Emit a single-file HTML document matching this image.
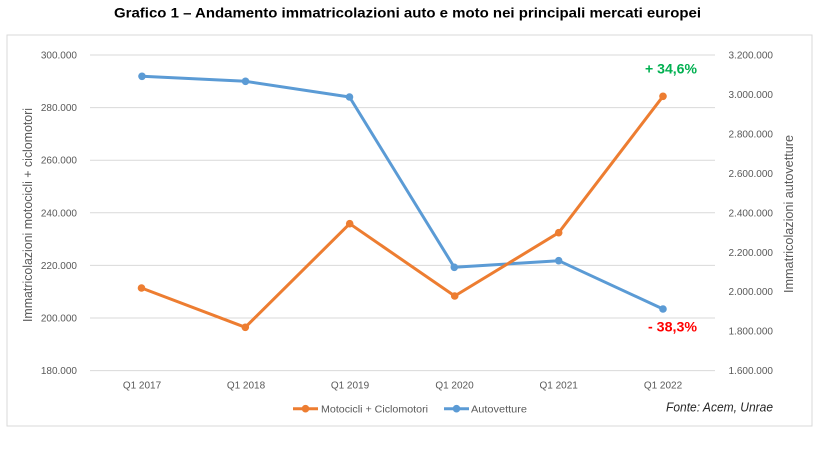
<!DOCTYPE html>
<html>
<head>
<meta charset="utf-8">
<style>
html,body{margin:0;padding:0;background:#fff;}
svg{display:block;}
text{font-family:"Liberation Sans",Arial,sans-serif;}
</style>
</head>
<body>
<svg width="835" height="451" viewBox="0 0 835 451" xmlns="http://www.w3.org/2000/svg">
<rect x="0" y="0" width="835" height="451" fill="#fff"/>
<text x="114" y="17.5" font-size="14" font-weight="bold" fill="#000" textLength="587" lengthAdjust="spacingAndGlyphs">Grafico 1 – Andamento immatricolazioni auto e moto nei principali mercati europei</text>
<rect x="7" y="35" width="805" height="391" fill="#fff" stroke="#d9d9d9" stroke-width="1"/>
<g stroke="#d9d9d9" stroke-width="1">
<line x1="90" y1="55" x2="715" y2="55"/>
<line x1="90" y1="107.6" x2="715" y2="107.6"/>
<line x1="90" y1="160.2" x2="715" y2="160.2"/>
<line x1="90" y1="212.8" x2="715" y2="212.8"/>
<line x1="90" y1="265.4" x2="715" y2="265.4"/>
<line x1="90" y1="318" x2="715" y2="318"/>
<line x1="90" y1="370.6" x2="715" y2="370.6"/>
</g>
<g font-size="10" fill="#595959" text-anchor="end">
<text x="77" y="58.5">300.000</text>
<text x="77" y="111.1">280.000</text>
<text x="77" y="163.7">260.000</text>
<text x="77" y="216.3">240.000</text>
<text x="77" y="268.9">220.000</text>
<text x="77" y="321.5">200.000</text>
<text x="77" y="374.1">180.000</text>
</g>
<g font-size="10" fill="#595959" text-anchor="end">
<text x="773" y="58.5">3.200.000</text>
<text x="773" y="98">3.000.000</text>
<text x="773" y="137.4">2.800.000</text>
<text x="773" y="176.9">2.600.000</text>
<text x="773" y="216.3">2.400.000</text>
<text x="773" y="255.8">2.200.000</text>
<text x="773" y="295.2">2.000.000</text>
<text x="773" y="334.6">1.800.000</text>
<text x="773" y="374.1">1.600.000</text>
</g>
<g font-size="10" fill="#595959" text-anchor="middle">
<text x="142" y="388.5">Q1 2017</text>
<text x="246" y="388.5">Q1 2018</text>
<text x="350" y="388.5">Q1 2019</text>
<text x="454.5" y="388.5">Q1 2020</text>
<text x="558.7" y="388.5">Q1 2021</text>
<text x="663" y="388.5">Q1 2022</text>
</g>
<text transform="translate(32,215) rotate(-90)" font-size="12.5" fill="#595959" text-anchor="middle" textLength="214" lengthAdjust="spacingAndGlyphs">Immatricolazioni motocicli + ciclomotori</text>
<text transform="translate(793,214) rotate(-90)" font-size="12.5" fill="#595959" text-anchor="middle" textLength="158" lengthAdjust="spacingAndGlyphs">Immatricolazioni autovetture</text>
<!-- Blue series -->
<polyline points="142,76.3 245.5,81.3 349.5,97 454.3,267.3 558.7,260.7 663,309" fill="none" stroke="#5b9bd5" stroke-width="3" stroke-linejoin="round"/>
<g fill="#5b9bd5">
<circle cx="142" cy="76.3" r="3.8"/>
<circle cx="245.5" cy="81.3" r="3.8"/>
<circle cx="349.5" cy="97" r="3.8"/>
<circle cx="454.3" cy="267.3" r="3.8"/>
<circle cx="558.7" cy="260.7" r="3.8"/>
<circle cx="663" cy="309" r="3.8"/>
</g>
<!-- Orange series -->
<polyline points="141.5,288 245.3,327.3 349.7,223.7 454.7,296 558.7,232.7 663,96.3" fill="none" stroke="#ed7d31" stroke-width="3" stroke-linejoin="round"/>
<g fill="#ed7d31">
<circle cx="141.5" cy="288" r="3.8"/>
<circle cx="245.3" cy="327.3" r="3.8"/>
<circle cx="349.7" cy="223.7" r="3.8"/>
<circle cx="454.7" cy="296" r="3.8"/>
<circle cx="558.7" cy="232.7" r="3.8"/>
<circle cx="663" cy="96.3" r="3.8"/>
</g>
<text x="645" y="73.3" font-size="14" font-weight="bold" fill="#00b050" textLength="52" lengthAdjust="spacingAndGlyphs">+ 34,6%</text>
<text x="648" y="331.5" font-size="14" font-weight="bold" fill="#ff0000" textLength="49" lengthAdjust="spacingAndGlyphs">- 38,3%</text>
<!-- Legend -->
<line x1="293" y1="408.7" x2="318" y2="408.7" stroke="#ed7d31" stroke-width="3"/>
<circle cx="305.5" cy="408.7" r="3.8" fill="#ed7d31"/>
<text x="321" y="412.5" font-size="10.5" fill="#595959" textLength="107" lengthAdjust="spacingAndGlyphs">Motocicli + Ciclomotori</text>
<line x1="444" y1="408.7" x2="469" y2="408.7" stroke="#5b9bd5" stroke-width="3"/>
<circle cx="456.5" cy="408.7" r="3.8" fill="#5b9bd5"/>
<text x="471" y="412.5" font-size="10.5" fill="#595959" textLength="56" lengthAdjust="spacingAndGlyphs">Autovetture</text>
<text x="666" y="411.5" font-size="12.5" font-style="italic" fill="#262626" textLength="107" lengthAdjust="spacingAndGlyphs">Fonte: Acem, Unrae</text>
</svg>
</body>
</html>
